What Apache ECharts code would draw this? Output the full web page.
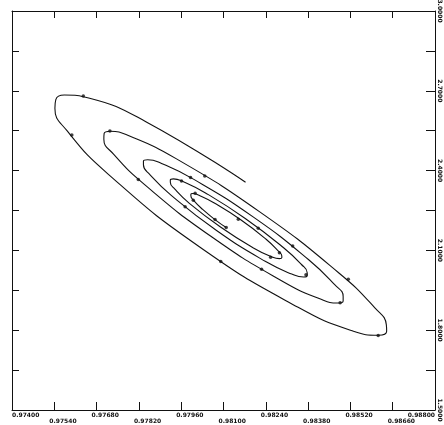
<!DOCTYPE html>
<html>
<head>
<meta charset="utf-8">
<title>spiral</title>
<script src="https://cdn.jsdelivr.net/npm/echarts@6/dist/echarts.min.js"></script>
<style>
html, body { margin: 0; padding: 0; background: #fff; }
#chart { width: 444px; height: 425px; }
</style>
</head>
<body>
<div id="chart"></div>
<script>
// axis ticks
var xTicks = ["0.97400", "0.97540", "0.97680", "0.97820", "0.97960", "0.98100",
              "0.98240", "0.98380", "0.98520", "0.98660", "0.98800"];
var yTicks = ["1.5000", "1.6500", "1.8000", "1.9500", "2.1000", "2.2500",
              "2.4000", "2.5500", "2.7000", "2.8500", "3.0000"];
var yLabels = ["1.5000", "1.8000", "2.1000", "2.4000", "2.7000", "3.0000"];

// the traced curve, from the free outer end spiralling in
var spiralX = [
    0.98173, 0.97843, 0.97657, 0.97573, 0.97545,
    0.97542, 0.97582, 0.97719, 0.98020, 0.98347, 0.98530, 0.98613, 0.98640,
    0.98639, 0.98601, 0.98480, 0.98220, 0.97943, 0.97791, 0.97725, 0.97705,
    0.97704, 0.97736, 0.97838, 0.98057, 0.98292, 0.98421, 0.98478, 0.98496,
    0.98496, 0.98468, 0.98382, 0.98198, 0.98002, 0.97895, 0.97849, 0.97835,
    0.97835, 0.97857, 0.97927, 0.98077, 0.98238, 0.98326, 0.98365, 0.98377,
    0.98377, 0.98358, 0.98298, 0.98172, 0.98039, 0.97966, 0.97934, 0.97924,
    0.97924, 0.97939, 0.97987, 0.98090, 0.98199, 0.98259, 0.98285, 0.98293,
    0.98293, 0.98280, 0.98241, 0.98157, 0.98068, 0.98019, 0.97998, 0.97992,
    0.97992, 0.98001, 0.98031, 0.98075, 0.98109
];
var spiralY = [
    2.356, 2.584, 2.672, 2.684, 2.667,
    2.634, 2.550, 2.386, 2.114, 1.886, 1.796, 1.781, 1.796,
    1.820, 1.884, 2.017, 2.245, 2.445, 2.529, 2.548, 2.540,
    2.518, 2.462, 2.348, 2.154, 1.986, 1.917, 1.902, 1.910,
    1.927, 1.971, 2.065, 2.226, 2.367, 2.427, 2.441, 2.436,
    2.422, 2.384, 2.307, 2.175, 2.059, 2.011, 2.000, 2.005,
    2.016, 2.047, 2.111, 2.220, 2.317, 2.359, 2.369, 2.365,
    2.356, 2.330, 2.277, 2.188, 2.109, 2.076, 2.069, 2.072,
    2.079, 2.099, 2.142, 2.215, 2.279, 2.307, 2.314, 2.311,
    2.305, 2.288, 2.254, 2.213, 2.186
];

// the small dots along the curve
var dotX = [0.97636, 0.97598, 0.98091, 0.98612, 0.98513, 0.98038, 0.97724, 0.97818,
            0.98226, 0.98486, 0.98329, 0.97991, 0.97973, 0.98373, 0.98215, 0.97961,
            0.98256, 0.98285, 0.98149, 0.98006, 0.98000, 0.98072, 0.98109];
var dotY = [2.680, 2.534, 2.058, 1.780, 1.992, 2.380, 2.549, 2.367,
            2.029, 1.903, 2.117, 2.374, 2.264, 2.008, 2.183, 2.361,
            2.074, 2.091, 2.217, 2.315, 2.289, 2.216, 2.186];

var ink = "#111";
var xTickVals = xTicks.map(parseFloat);
var yTickVals = yTicks.map(parseFloat);
var yLabelVals = yLabels.map(parseFloat);

function zip(a, b) {
    var out = [];
    for (var i = 0; i < a.length; i++) out.push([a[i], b[i]]);
    return out;
}

// labels alternate between two rows
function xLabel(v) {
    var k = Math.round((v - 0.974) / 0.0014);
    return (k % 2 ? "\n" : "") + v.toFixed(5);
}

var labelFont = {
    fontFamily: "DejaVu Sans",
    fontSize: 6,
    fontWeight: "bold",
    color: ink,
    lineHeight: 6
};

function xAxisBase(pos) {
    return {
        type: "value",
        position: pos,
        min: 0.974,
        max: 0.988,
        axisLine: { show: false, onZero: false },
        axisTick: { show: false },
        axisLabel: { show: false },
        splitLine: { show: false }
    };
}

var xMain = xAxisBase("bottom");
xMain.axisLine = { show: true, onZero: false, lineStyle: { color: ink, width: 1 } };
xMain.axisTick = { show: true, inside: true, length: 8, customValues: xTickVals, lineStyle: { color: ink } };
xMain.axisLabel = Object.assign({
    show: true,
    customValues: xTickVals.slice(1, -1),
    formatter: xLabel,
    align: "left",
    margin: 2,
    padding: [0, 0, 0, -5]
}, labelFont);

var xTop = xAxisBase("top");
xTop.axisLine = { show: true, onZero: false, lineStyle: { color: ink, width: 1 } };
xTop.axisTick = { show: true, inside: true, length: 7, customValues: xTickVals, lineStyle: { color: ink } };

var xFirst = xAxisBase("bottom");
xFirst.axisLabel = Object.assign({
    show: true, customValues: [xTickVals[0]], formatter: xLabel, align: "left", margin: 2
}, labelFont);

var xLast = xAxisBase("bottom");
xLast.axisLabel = Object.assign({
    show: true, customValues: [xTickVals[xTickVals.length - 1]], formatter: xLabel, align: "right", margin: 2
}, labelFont);

var myChart = echarts.init(document.getElementById("chart"));

myChart.setOption({
    animation: false,
    backgroundColor: "#fff",
    grid: { left: 12, right: 9, top: 11, bottom: 15, containLabel: false, outerBoundsMode: "none" },
    xAxis: [xMain, xTop, xFirst, xLast],
    yAxis: [{
        type: "value",
        position: "right",
        min: 1.5,
        max: 3.0,
        axisLine: { show: true, onZero: false, lineStyle: { color: ink, width: 1 } },
        axisTick: { show: true, inside: true, length: 9, customValues: yTickVals, lineStyle: { color: ink } },
        axisLabel: Object.assign({
            show: true,
            customValues: yLabelVals,
            formatter: function(v) { return v.toFixed(4); },
            rotate: -90,
            align: "center",
            verticalAlign: "bottom",
            margin: 2
        }, labelFont),
        splitLine: { show: false }
    }, {
        type: "value",
        position: "left",
        min: 1.5,
        max: 3.0,
        axisLine: { show: true, onZero: false, lineStyle: { color: ink, width: 1 } },
        axisTick: { show: true, inside: true, length: 7, customValues: yTickVals, lineStyle: { color: ink } },
        axisLabel: { show: false },
        splitLine: { show: false }
    }],
    series: [{
        type: "line",
        data: zip(spiralX, spiralY),
        smooth: 0.5,
        showSymbol: false,
        lineStyle: { color: ink, width: 1.1 }
    }, {
        type: "scatter",
        data: zip(dotX, dotY),
        symbol: "circle",
        symbolSize: 3.5,
        itemStyle: { color: ink }
    }]
});
</script>
</body>
</html>
